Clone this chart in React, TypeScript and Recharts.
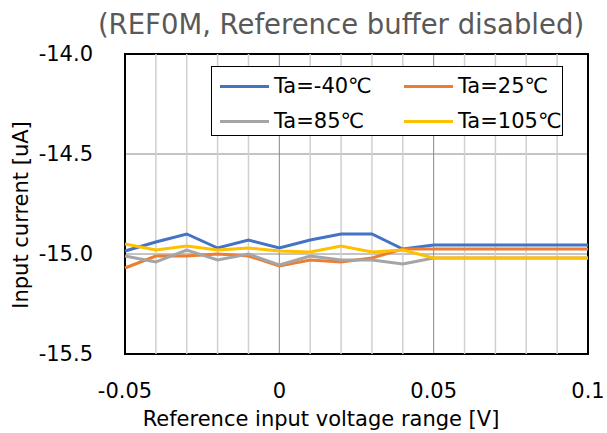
import React from "react";
import {
  LineChart,
  Line,
  XAxis,
  YAxis,
  CartesianGrid,
  ReferenceLine,
  ReferenceArea,
  Legend,
} from "recharts";

const FONT = '"DejaVu Sans", "Noto Sans CJK JP", sans-serif';

// Reference input voltage [V]
const voltages = [-0.05, -0.04, -0.03, -0.02, -0.01, 0, 0.01, 0.02, 0.03, 0.04, 0.05, 0.06, 0.07, 0.08, 0.09, 0.1];

// Input current [uA] per ambient temperature
const ta40 = [-14.985, -14.94, -14.9, -14.97, -14.93, -14.97, -14.93, -14.9, -14.9, -14.975, -14.955, -14.955, -14.955, -14.955, -14.955, -14.955];
const ta25 = [-15.07, -15.01, -15.01, -15.0, -15.01, -15.06, -15.03, -15.04, -15.02, -14.975, -14.975, -14.975, -14.975, -14.975, -14.975, -14.975];
const ta85 = [-15.01, -15.04, -14.98, -15.03, -15.0, -15.055, -15.01, -15.03, -15.03, -15.05, -15.02, -15.02, -15.02, -15.02, -15.02, -15.02];
const ta105 = [-14.95, -14.98, -14.96, -14.98, -14.97, -14.985, -14.99, -14.96, -14.99, -14.98, -15.02, -15.02, -15.02, -15.02, -15.02, -15.02];

const xTicks = [-0.05, 0, 0.05, 0.1];
const xMinorTicks = [-0.04, -0.03, -0.02, -0.01, 0.01, 0.02, 0.03, 0.04, 0.06, 0.07, 0.08, 0.09];
const yTicks = [-15.5, -15.0, -14.5, -14.0];

const series = [
  { key: "ta40", name: "Ta=-40℃", color: "#4472C4", values: ta40 },
  { key: "ta25", name: "Ta=25℃", color: "#ED7D31", values: ta25 },
  { key: "ta85", name: "Ta=85℃", color: "#A5A5A5", values: ta85 },
  { key: "ta105", name: "Ta=105℃", color: "#FFC000", values: ta105 },
];

const data = voltages.map((v, i) => {
  const row: Record<string, number> = { v };
  series.forEach((s) => {
    row[s.key] = s.values[i];
  });
  return row;
});

const LegendBox = ({ payload }: any) => {
  const items = [...(payload || [])].sort(
    (a: any, b: any) =>
      series.findIndex((s) => s.name === a.value) - series.findIndex((s) => s.name === b.value)
  );
  return (
    <div
      style={{
        display: "grid",
        gridTemplateColumns: "184px 168px",
        rowGap: 8,
        padding: "6px 0 0 8px",
        boxSizing: "border-box",
        width: 352,
        height: 70,
        border: "1.5px solid #000",
        background: "#fff",
        fontFamily: FONT,
        fontSize: 21,
        color: "#000",
      }}
    >
      {items.map((p: any) => (
        <div key={p.value} style={{ display: "flex", alignItems: "center", height: 26 }}>
          <span style={{ display: "inline-block", width: 49, height: 3, background: p.color, marginRight: 5 }} />
          <span>{p.value}</span>
        </div>
      ))}
    </div>
  );
};

export default function App() {
  return (
    <div style={{ position: "absolute", left: 0, top: 0, width: 607, height: 433, background: "#fff" }}>
      <LineChart
        width={607}
        height={433}
        data={data}
        margin={{ top: 54, right: 19, left: 25, bottom: 29 }}
      >
        <CartesianGrid stroke="#8a8a8a" strokeWidth={1} />
        {xMinorTicks.map((t) => (
          <ReferenceLine key={t} x={t} stroke="#d0d0d0" strokeWidth={1.5} />
        ))}
        <XAxis
          dataKey="v"
          type="number"
          domain={[-0.05, 0.1]}
          ticks={xTicks}
          axisLine={false}
          tickLine={false}
          tickSize={0}
          tickMargin={29}
          height={50}
          tick={{ fill: "#000", fontSize: 21, fontFamily: FONT }}
          label={{
            content: () => (
              <text x={321} y={426} textAnchor="middle" fill="#000" fontSize={21} fontFamily={FONT}>
                Reference input voltage range [V]
              </text>
            ),
          }}
        />
        <YAxis
          type="number"
          domain={[-15.5, -14]}
          ticks={yTicks}
          tickFormatter={(v: number) => v.toFixed(1)}
          axisLine={false}
          tickLine={false}
          tickSize={0}
          tickMargin={32}
          width={100}
          tick={{ fill: "#000", fontSize: 21, fontFamily: FONT }}
          label={{
            content: () => (
              <text
                x={21}
                y={215}
                transform="rotate(-90 21 215)"
                textAnchor="middle"
                dominantBaseline="central"
                fill="#000"
                fontSize={21}
                fontFamily={FONT}
              >
                Input current [uA]
              </text>
            ),
          }}
        />
        <ReferenceArea
          x1={-0.05}
          x2={0.1}
          y1={-15.5}
          y2={-14}
          fill="none"
          stroke="#000"
          strokeWidth={2}
          ifOverflow="visible"
        />
        {series.map((s) => (
          <Line
            key={s.key}
            type="linear"
            dataKey={s.key}
            name={s.name}
            stroke={s.color}
            strokeWidth={3}
            dot={false}
            isAnimationActive={false}
          />
        ))}
        <Legend
          layout="vertical"
          align="center"
          verticalAlign="middle"
          content={LegendBox}
          wrapperStyle={{ position: "absolute", left: 211, top: 66, width: 352, height: 70 }}
        />
        <text x={341} y={34} textAnchor="middle" fill="#595959" fontSize={27.5} fontFamily={FONT}>
          (REF0M, Reference buffer disabled)
        </text>
      </LineChart>
    </div>
  );
}
